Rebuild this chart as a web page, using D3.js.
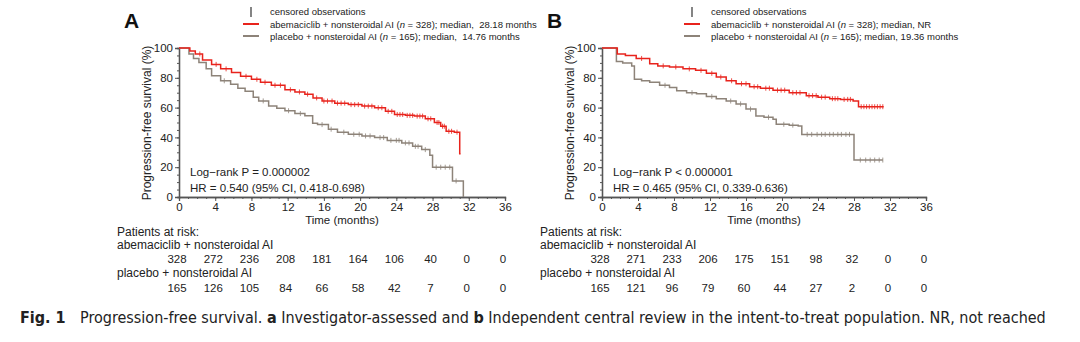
<!DOCTYPE html>
<html>
<head>
<meta charset="utf-8">
<script src="https://cdn.jsdelivr.net/npm/d3@7"></script>
<style>
  body { margin: 0; background: #fff; }
  svg text { font-family: "Liberation Sans", Arial, sans-serif; fill: #222; }
</style>
</head>
<body>
<svg id="chart" width="1080" height="342"></svg>
<script>
// months on the x axis
const xTicks = [0, 4, 8, 12, 16, 20, 24, 28, 32, 36];
const yTicks = [0, 20, 40, 60, 80, 100];

// Panel A - investigator assessed (step drops: time, survival %)
const aAbemaTimes = [0, 1.2, 1.8, 2.6, 3.6, 4.6, 5.8, 6.8, 8.0, 9.0, 10.2, 11.7, 12.8, 13.9, 14.8, 15.8, 17.2, 18.7, 20.2, 21.6, 22.8, 23.8, 25.0, 26.0, 27.2, 28.2, 28.9, 29.5, 30.4, 31.0, 31.1];
const aAbemaSurv  = [100, 98, 96, 92, 89, 86, 83.6, 81, 79, 77, 75, 72, 70.5, 69, 66.5, 64.4, 63, 62, 61, 59.9, 57.5, 55.4, 54.8, 54.3, 52.5, 50.0, 47.5, 44.1, 43.5, 29, 29];
const aAbemaCensor = [2.3, 4.1, 5.2, 7.4, 8.6, 9.5, 10.6, 11.2, 12.3, 13.3, 14.2, 15.2, 16.0, 16.4, 16.9, 17.5, 17.9, 18.3, 19.0, 19.4, 19.8, 20.5, 20.9, 21.3, 22.0, 22.4, 23.1, 23.5, 24.1, 24.4, 24.7, 25.2, 25.5, 25.8, 26.3, 26.6, 26.9, 27.5, 27.8, 28.5, 28.7, 29.1, 29.3, 29.8, 30.1, 30.7];
const aPlacTimes = [0, 1.1, 1.6, 2.2, 3.0, 3.6, 4.6, 5.7, 6.5, 7.3, 8.2, 8.8, 9.9, 10.8, 11.7, 12.8, 13.9, 14.76, 15.3, 16.5, 17.5, 18.7, 20.2, 21.6, 23.0, 24.6, 25.8, 26.8, 27.7, 28.0, 30.2, 31.4];
const aPlacSurv  = [100, 96, 93, 90.3, 86, 81.3, 78, 75.7, 73, 71, 67, 64.5, 61, 59.5, 57.9, 56, 54.5, 49.5, 48.6, 45.5, 43.5, 42.1, 41, 39.9, 38, 36.3, 34, 31.8, 28, 20, 10.8, 0];
const aPlacCensor = [5.0, 9.3, 12.1, 13.4, 15.8, 16.8, 18.2, 19.3, 19.9, 20.6, 21.1, 22.2, 22.6, 23.4, 24.0, 24.3, 25.0, 25.4, 26.1, 26.4, 27.2, 28.4, 28.9, 29.4, 29.9, 30.6];
const aAbemaRisk = [328, 272, 236, 208, 181, 164, 106, 40, 0, 0];
const aPlacRisk  = [165, 126, 105, 84, 66, 58, 42, 7, 0, 0];

// Panel B - independent central review
const bAbemaTimes = [0, 1.7, 2.6, 3.8, 5.3, 6.2, 7.5, 9.0, 10.4, 11.6, 12.7, 13.8, 14.9, 16.4, 17.6, 19.0, 20.8, 22.7, 24.0, 25.3, 26.5, 27.9, 28.5, 31.3];
const bAbemaSurv  = [100, 96, 95, 93, 89.5, 88, 87.3, 86, 85, 83, 80.5, 78, 76, 74, 73, 71.7, 70, 68, 67, 66, 65.5, 64.5, 60.6, 60.6];
const bAbemaCensor = [4.4, 6.8, 8.2, 9.7, 11.0, 12.2, 13.2, 14.4, 15.5, 16.0, 16.9, 17.3, 18.2, 18.6, 19.5, 19.9, 20.3, 21.2, 21.6, 22.0, 23.0, 23.4, 23.8, 24.4, 24.8, 25.6, 25.9, 26.2, 26.9, 27.3, 27.6, 28.8, 29.1, 29.4, 29.7, 30.0, 30.3, 30.6, 30.9, 31.2];
const bPlacTimes = [0, 1.6, 2.3, 3.3, 3.6, 4.4, 5.3, 6.4, 7.5, 8.3, 9.4, 10.5, 11.6, 12.7, 13.8, 14.9, 16.0, 17.1, 18.0, 19.0, 19.36, 20.8, 21.8, 22.2, 28.0, 31.2];
const bPlacSurv  = [100, 91, 90, 88, 79, 78, 77, 75, 73.5, 71.3, 70, 69.3, 67.5, 66, 64.4, 62.5, 59, 54.4, 53.5, 52.2, 48.8, 48.2, 47.6, 42, 24.8, 24.8];
const bPlacCensor = [7.0, 10.0, 12.2, 14.3, 15.4, 16.5, 18.5, 20.2, 21.2, 22.8, 23.3, 23.9, 24.4, 24.8, 25.3, 25.7, 26.2, 26.6, 27.1, 27.5, 28.7, 29.3, 29.8, 30.3, 30.8, 31.2];
const bAbemaRisk = [328, 271, 233, 206, 175, 151, 98, 32, 0, 0];
const bPlacRisk  = [165, 121, 96, 79, 60, 44, 27, 2, 0, 0];

const red = "#e8231c";
const grey = "#8d8379";
const axisCol = "#555";

const svg = d3.select("#chart");

const panels = [
  {
    letter: "A", x0: 179, x1: 505, legX: 243,
    abema: { t: aAbemaTimes, s: aAbemaSurv, c: aAbemaCensor, risk: aAbemaRisk, median: "median,\u00a0\u00a028.18 months" },
    plac:  { t: aPlacTimes, s: aPlacSurv, c: aPlacCensor, risk: aPlacRisk, median: "median,\u00a0\u00a014.76 months" },
    p: "Log\u2212rank P = 0.000002", hr: "HR = 0.540 (95% CI, 0.418-0.698)"
  },
  {
    letter: "B", x0: 602, x1: 926, legX: 684,
    abema: { t: bAbemaTimes, s: bAbemaSurv, c: bAbemaCensor, risk: bAbemaRisk, median: "median, NR" },
    plac:  { t: bPlacTimes, s: bPlacSurv, c: bPlacCensor, risk: bPlacRisk, median: "median, 19.36 months" },
    p: "Log\u2212rank P < 0.000001", hr: "HR = 0.465 (95% CI, 0.339-0.636)"
  }
];

panels.forEach(function(pn) {
  const x = d3.scaleLinear().domain([0, 36]).range([pn.x0, pn.x1]);
  const y = d3.scaleLinear().domain([0, 100]).range([197, 48]);
  const g = svg.append("g");

  // panel letter
  g.append("text").attr("x", pn.x0 - 55).attr("y", 28)
    .style("font-size", "21px").style("font-weight", "bold").style("fill", "#111")
    .text(pn.letter);

  // axes
  g.append("g").attr("transform", "translate(" + pn.x0 + ",0)")
    .call(d3.axisLeft(y).tickValues(yTicks).tickSize(4).tickPadding(2));
  g.append("g").attr("transform", "translate(" + pn.x0 + ",0)")
    .call(d3.axisLeft(y).tickValues(d3.range(0, 101, 5)).tickSize(2).tickFormat(""));
  g.append("g").attr("transform", "translate(0,197)")
    .call(d3.axisBottom(x).tickValues(xTicks).tickSize(4).tickPadding(2));
  g.append("g").attr("transform", "translate(0,197)")
    .call(d3.axisBottom(x).tickValues(d3.range(0, 37, 1)).tickSize(2).tickFormat(""));
  g.selectAll(".domain").attr("stroke", axisCol).attr("stroke-width", 1.3);
  g.selectAll(".tick line").attr("stroke", axisCol);
  g.selectAll(".tick text").style("font-size", "11.5px").style("fill", "#222")
    .style("font-family", "'Liberation Sans', Arial, sans-serif");

  g.append("text").attr("transform", "translate(" + (pn.x0 - 28) + ",123) rotate(-90)")
    .attr("text-anchor", "middle").style("font-size", "12px")
    .text("Progression-free survival (%)");
  g.append("text").attr("x", (pn.x0 + pn.x1) / 2).attr("y", 224)
    .attr("text-anchor", "middle").style("font-size", "11.5px").text("Time (months)");

  // curves
  [["plac", grey], ["abema", red]].forEach(function(arm) {
    const d = pn[arm[0]];
    const pts = d.t.map((t, i) => [t, d.s[i]]);
    g.append("path").datum(pts)
      .attr("fill", "none").attr("stroke", arm[1]).attr("stroke-width", 1.5)
      .attr("d", d3.line().x(p => x(p[0])).y(p => y(p[1])).curve(d3.curveStepAfter));
    g.selectAll(null).data(d.c).enter().append("line")
      .attr("x1", t => x(t)).attr("x2", t => x(t))
      .attr("y1", t => y(d.s[d3.bisectRight(d.t, t) - 1]) - 2.5)
      .attr("y2", t => y(d.s[d3.bisectRight(d.t, t) - 1]) + 2.5)
      .attr("stroke", arm[1]).attr("stroke-width", 0.8);
  });

  // stats
  g.append("text").attr("x", pn.x0 + 11).attr("y", 176).style("font-size", "11.5px").text(pn.p);
  g.append("text").attr("x", pn.x0 + 11).attr("y", 192).style("font-size", "11.5px").text(pn.hr);

  // legend
  const lx = pn.legX;
  g.append("line").attr("x1", lx + 8).attr("x2", lx + 8).attr("y1", 7).attr("y2", 17)
    .attr("stroke", "#333").attr("stroke-width", 1.2);
  g.append("text").attr("x", lx + 27).attr("y", 15).style("font-size", "9.5px").text("censored observations");
  const legRows = [
    [red, 24, "abemaciclib + nonsteroidal AI (", "328", pn.abema.median],
    [grey, 36, "placebo + nonsteroidal AI (", "165", pn.plac.median]
  ];
  legRows.forEach(function(r) {
    g.append("line").attr("x1", lx).attr("x2", lx + 16).attr("y1", r[1]).attr("y2", r[1])
      .attr("stroke", r[0]).attr("stroke-width", 2);
    const t = g.append("text").attr("x", lx + 27).attr("y", r[1] + 3.5).style("font-size", "9.5px");
    t.append("tspan").text(r[2]);
    t.append("tspan").style("font-style", "italic").text("n");
    t.append("tspan").text(" = " + r[3] + "); " + r[4]);
  });

  // patients at risk
  const tx = pn.x0 - 62;
  g.append("text").attr("x", tx).attr("y", 236).style("font-size", "12px").text("Patients at risk:");
  g.append("text").attr("x", tx).attr("y", 249).style("font-size", "12px").text("abemaciclib + nonsteroidal AI");
  g.append("text").attr("x", tx).attr("y", 277).style("font-size", "12px").text("placebo + nonsteroidal AI");
  [[pn.abema.risk, 263], [pn.plac.risk, 292]].forEach(function(row) {
    g.selectAll(null).data(row[0]).enter().append("text")
      .attr("x", (v, i) => x(xTicks[i]) - 2).attr("y", row[1])
      .attr("text-anchor", "middle").style("font-size", "11.5px").text(v => v);
  });
});

// caption
const cap = svg.append("text").attr("x", 20).attr("y", 323)
  .style("font-family", "'Liberation Sans Narrow', 'DejaVu Sans Condensed', sans-serif")
  .style("font-size", "16px");
cap.append("tspan").style("font-weight", "bold").text("Fig. 1");
cap.append("tspan").attr("x", 80).text("Progression-free survival. ");
cap.append("tspan").style("font-weight", "bold").text("a");
cap.append("tspan").text(" Investigator-assessed and ");
cap.append("tspan").style("font-weight", "bold").text("b");
cap.append("tspan").text(" Independent central review in the intent-to-treat population. NR, not reached");
</script>
</body>
</html>
